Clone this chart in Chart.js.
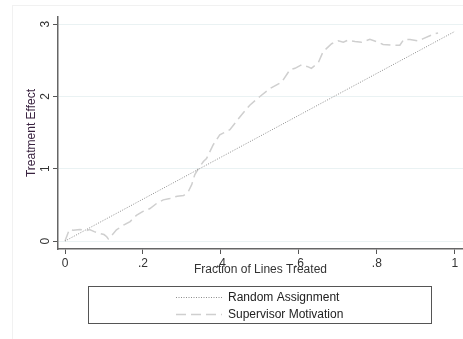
<!DOCTYPE html>
<html>
<head>
<meta charset="utf-8">
<script src="https://cdn.jsdelivr.net/npm/chart.js@4.4.0/dist/chart.umd.min.js"></script>
<style>
  body { margin: 0; background: #fff; }
  #wrap { width: 463px; height: 339px; position: relative; }
</style>
</head>
<body>
<div id="wrap"><canvas id="chart" width="463" height="339"></canvas></div>
<script>
// values
const randomX = [0, 1];
const randomY = [0, 2.9];

const supervisorX = [0, 0.011, 0.021, 0.038, 0.048, 0.056, 0.063, 0.075, 0.09, 0.1, 0.107, 0.111, 0.12, 0.132, 0.15, 0.167, 0.184, 0.2, 0.218, 0.235, 0.252, 0.269, 0.288, 0.304, 0.316, 0.325, 0.333, 0.342, 0.355, 0.363, 0.38, 0.397, 0.423, 0.449, 0.474, 0.5, 0.526, 0.543, 0.556, 0.577, 0.59, 0.607, 0.624, 0.632, 0.65, 0.662, 0.684, 0.701, 0.714, 0.726, 0.744, 0.761, 0.782, 0.799, 0.816, 0.837, 0.859, 0.869, 0.885, 0.906, 0.919, 0.936, 0.949, 0.957];
const supervisorY = [0, 0.16, 0.15, 0.16, 0.15, 0.145, 0.16, 0.13, 0.105, 0.09, 0.06, 0.03, 0.08, 0.155, 0.22, 0.27, 0.36, 0.41, 0.45, 0.52, 0.57, 0.59, 0.62, 0.63, 0.68, 0.78, 0.92, 1.0, 1.1, 1.14, 1.33, 1.47, 1.54, 1.72, 1.88, 2.0, 2.11, 2.16, 2.2, 2.37, 2.39, 2.44, 2.41, 2.39, 2.47, 2.62, 2.73, 2.77, 2.75, 2.78, 2.76, 2.75, 2.79, 2.76, 2.72, 2.71, 2.71, 2.79, 2.79, 2.77, 2.8, 2.84, 2.87, 2.88];

const xTicks = [0, 0.2, 0.4, 0.6, 0.8, 1];
const xTickLabels = ['0', '.2', '.4', '.6', '.8', '1'];
const yTicks = [0, 1, 2, 3];

const seriesNames = ['Random Assignment', 'Supervisor Motivation'];

const toPoints = (xs, ys) => xs.map((x, i) => ({ x: x, y: ys[i] }));

const font = { family: 'Liberation Sans, Arial, sans-serif', size: 12 };

// faint outer frame + boxed legend under the plot, like stata's
const boxLegend = {
  id: 'boxLegend',
  beforeDraw(chart) {
    const ctx = chart.ctx;
    ctx.save();
    ctx.strokeStyle = '#f1f1f1';
    ctx.lineWidth = 1;
    ctx.strokeRect(12.5, 5.5, 460, 340);
    ctx.restore();
  },
  afterDraw(chart) {
    const ctx = chart.ctx;
    ctx.save();
    ctx.strokeStyle = '#555';
    ctx.lineWidth = 1;
    ctx.strokeRect(88.5, 286.5, 343, 37);
    ctx.font = '12px ' + font.family;
    ctx.textBaseline = 'middle';
    ctx.fillStyle = '#222';
    chart.data.datasets.forEach((ds, i) => {
      const y = 297.5 + i * 17;
      ctx.beginPath();
      ctx.strokeStyle = ds.borderColor;
      ctx.lineWidth = ds.borderWidth;
      ctx.setLineDash(ds.borderDash);
      ctx.moveTo(176, y);
      ctx.lineTo(222, y);
      ctx.stroke();
      ctx.setLineDash([]);
      ctx.fillText(ds.label, 228, y);
    });
    ctx.restore();
  }
};

new Chart(document.getElementById('chart'), {
  type: 'scatter',
  data: {
    datasets: [
      {
        label: seriesNames[0],
        data: toPoints(randomX, randomY),
        showLine: true,
        borderColor: '#8c8c8c',
        borderWidth: 1,
        borderDash: [1, 1.5],
        pointRadius: 0
      },
      {
        label: seriesNames[1],
        data: toPoints(supervisorX, supervisorY),
        showLine: true,
        borderColor: '#cfcfcf',
        borderWidth: 1.5,
        borderDash: [10, 5],
        pointRadius: 0
      }
    ]
  },
  options: {
    responsive: false,
    animation: false,
    layout: { padding: { left: 0, top: 17, right: 0, bottom: 60 } },
    plugins: {
      legend: { display: false },
      tooltip: { enabled: false }
    },
    scales: {
      x: {
        type: 'linear',
        min: -0.018,
        max: 1.021,
        afterBuildTicks: scale => { scale.ticks = xTicks.map(v => ({ value: v })); },
        afterFit: scale => { scale.height = 30; },
        ticks: {
          font: font,
          color: '#333',
          padding: 2,
          callback: (v, i) => xTickLabels[i]
        },
        grid: { display: true, drawOnChartArea: false, tickLength: 5, color: '#555' },
        border: { color: '#666', width: 1.5 },
        title: {
          display: true,
          text: 'Fraction of Lines Treated',
          font: font,
          color: '#333',
          padding: { top: 0, bottom: 2 }
        }
      },
      y: {
        type: 'linear',
        min: -0.11,
        max: 3.1,
        afterBuildTicks: scale => { scale.ticks = yTicks.map(v => ({ value: v })); },
        afterFit: scale => { scale.width = 58; },
        ticks: {
          font: font,
          color: '#333',
          padding: 4,
          minRotation: 90,
          maxRotation: 90,
          crossAlign: 'center',
          callback: v => String(v)
        },
        grid: {
          color: '#eaf2f3',
          tickColor: '#555',
          tickLength: 5
        },
        border: { color: '#666', width: 1.5 },
        title: {
          display: true,
          text: 'Treatment Effect',
          font: font,
          color: '#3a2340',
          padding: { top: 24, bottom: 0 }
        }
      }
    }
  },
  plugins: [boxLegend]
});
</script>
</body>
</html>
